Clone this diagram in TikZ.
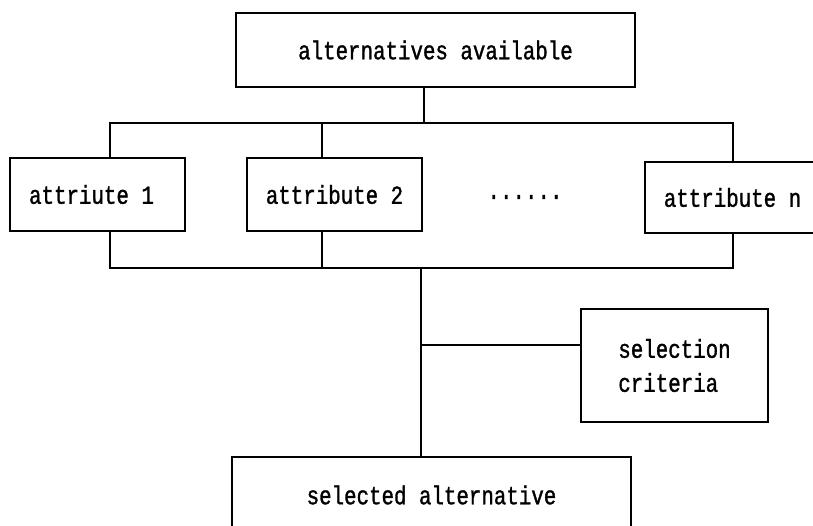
\documentclass[tikz,border=0pt]{standalone}
\usepackage{fontspec}
\newfontfamily\diagfont[FakeStretch=0.8,FakeBold=1.2]{Liberation Mono}
\begin{document}
\begin{tikzpicture}[x=1pt,y=-1pt,
  box/.style={draw,line width=1.5pt,inner sep=0pt,font=\diagfont\fontsize{26}{34}\selectfont},
  conn/.style={line width=1.5pt}]
\useasboundingbox (0,0) rectangle (813,526);
\node[box,minimum width=399pt,minimum height=74pt] (top) at (435.5,50) {alternatives available};
\node[box,minimum width=175pt,minimum height=73pt] (a1) at (97.5,194.5) {\hspace*{-12pt}attriute 1};
\node[box,minimum width=175pt,minimum height=73pt] (a2) at (334.5,194.5) {attribute 2};
\node[box,minimum width=175pt,minimum height=71pt] (an) at (732.5,197.5) {attribute n};
\node[font=\diagfont\fontsize{26}{34}\selectfont,inner sep=0pt] (dots) at (525,197) {......};
\node[box,minimum width=187pt,minimum height=113pt,align=left] (sc) at (674.5,365.5) {selection\\criteria};
\node[box,minimum width=399pt,minimum height=76pt] (sa) at (431.5,495) {selected alternative};
\coordinate (tb) at (424,123);
\coordinate (tl) at (110,123);
\coordinate (tm) at (322,123);
\coordinate (tr) at (733,123);
\coordinate (bb) at (421,268);
\coordinate (bl) at (110,268);
\coordinate (bm) at (322,268);
\coordinate (br) at (733,268);
\coordinate (jc) at (421,345);
\draw[conn] (top.south -| tb) -- (tb);
\draw[conn] (a1.north -| tl) -- (tl) -- (tr) -- (an.north -| tr);
\draw[conn] (tm) -- (a2.north -| tm);
\draw[conn] (a1.south -| bl) -- (bl) -- (br) -- (an.south -| br);
\draw[conn] (a2.south -| bm) -- (bm);
\draw[conn] (bb) -- (sa.north -| bb);
\draw[conn] (jc) -- (sc.west |- jc);
\end{tikzpicture}
\end{document}
